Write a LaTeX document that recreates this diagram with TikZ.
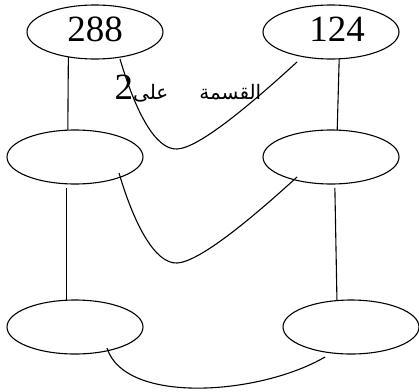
\documentclass[tikz,border=0pt]{standalone}
\usepackage{fontspec}
\setmainfont{Liberation Serif}
\newfontfamily\numfont{Liberation Serif}
\newfontfamily\arabicfont[Script=Arabic]{DejaVu Sans}
\TeXXeTstate=1
\usetikzlibrary{shapes.geometric,calc}
\tikzset{
  oval/.style={draw, ellipse, line width=1.1pt, minimum width=136pt, minimum height=54pt, inner sep=0pt, outer sep=0pt, font=\numfont\fontsize{37}{40}\selectfont},
  link/.style={line width=1.1pt}
}
\begin{document}
\begin{tikzpicture}[x=1pt,y=-1pt]
\useasboundingbox (0,0) rectangle (419,391);
\node[oval] (n1) at (95,32) {\raisebox{5pt}{288}};
\node[oval] (n2) at (331,32) {\hspace{12pt}\raisebox{5pt}{124}};
\node[oval] (n3) at (75,157) {};
\node[oval] (n4) at (331,157) {};
\node[oval] (n5) at (75,327) {};
\node[oval] (n6) at (351,327) {};
\coordinate (a1) at ($(n1)+(25,27)$);
\coordinate (b1) at ($(n2)+(-34,30)$);
\coordinate (a2) at ($(n3)+(44,16)$);
\coordinate (b2) at ($(n4)+(-34,20)$);
\coordinate (a3) at ($(n5)+(32,21)$);
\coordinate (b3) at ($(n6)+(-26,30)$);
\draw[link] (n1.-137) -- (n3.105);
\draw[link] (n2.-73) -- (n4.77);
\draw[link,shorten <=4pt] (n3.-107) -- (n5.107);
\draw[link,shorten <=4pt] (n4.-82) -- (n6.118);
\draw[link] (a1) .. controls (135,110) and (155,150) .. (177,149) .. controls (199,148) and (250,105) .. (b1);
\draw[link] (a2) .. controls (134,224) and (155,264) .. (177,263) .. controls (199,262) and (250,220) .. (b2);
\draw[link] (a3) .. controls (125,405) and (260,395) .. (b3);
\node[anchor=base, inner sep=0pt] (lbl) at (188,99) {\arabicfont\fontsize{20}{24}\selectfont\beginR القسمة\hspace{31pt}على{\numfont\fontsize{37}{40}\selectfont 2}\endR};
\end{tikzpicture}
\end{document}
